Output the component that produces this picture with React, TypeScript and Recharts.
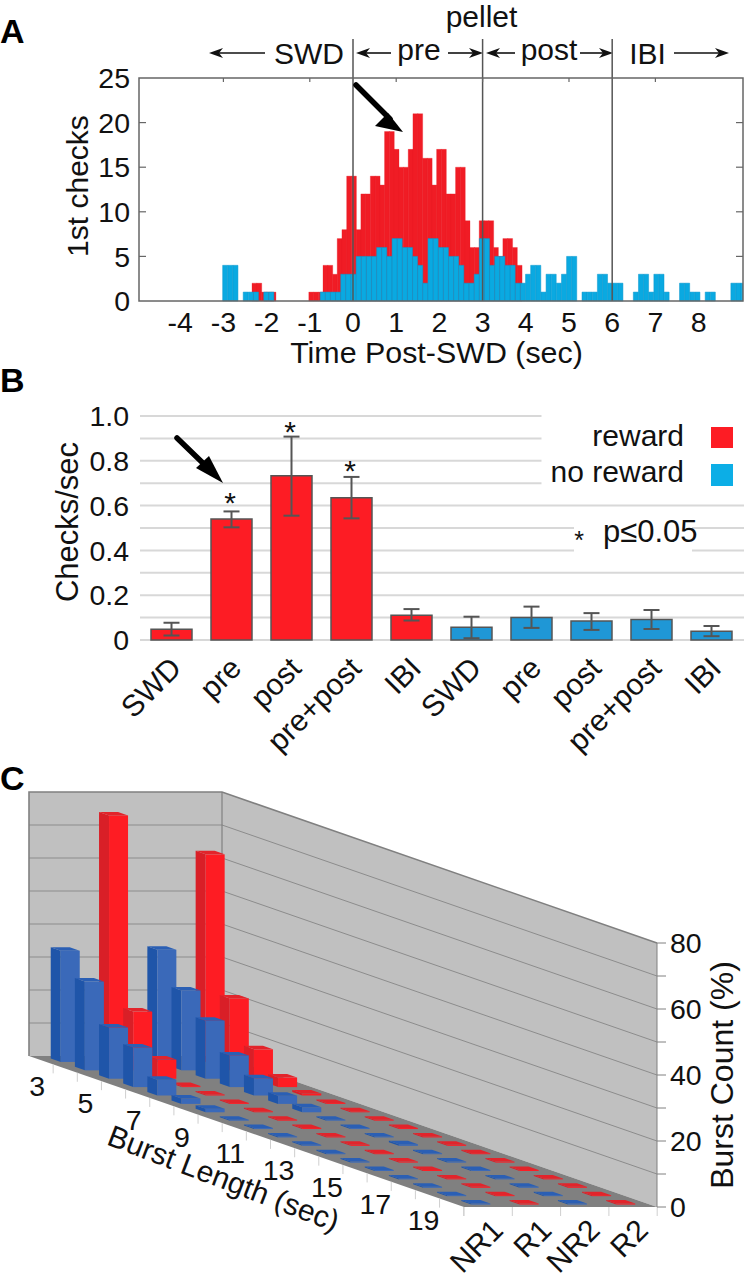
import {
  BarChart,
  Bar,
  Cell,
  CartesianGrid,
  ErrorBar,
  ReferenceLine,
  Scatter,
  ScatterChart,
  XAxis,
  YAxis,
} from 'recharts'

const FONT = '"Liberation Sans", Arial, sans-serif'
const INK = '#111'

// panel A, histogram bins (red and blue use different bin widths)
const redStart = -2.338
const redWidth = 0.10957
const redCounts = [
  2, 2, 1, 1, 1, 0, 0, 0, 0, 0, 0, 0, 1, 1, 1, 4, 4, 3, 7, 8, 14, 14, 8, 12, 12, 14, 14, 13, 19, 19, 17, 15, 15, 17, 21,
  21, 16, 16, 13, 17, 17, 12, 12, 15, 15, 9, 6, 6, 9, 9, 9, 6, 5, 7, 7, 6, 4,
]
const blueStart = -3.017
const blueWidth = 0.11883
const blueCounts = [
  4, 4, 4, 0, 1, 1, 1, 0, 1, 1, 0, 0, 0, 0, 0, 0, 0, 0, 0, 1, 1, 1, 1, 3, 3, 3, 5, 5, 5, 5, 6, 6, 5, 7, 7, 6, 6, 5, 4, 2,
  7, 7, 6, 6, 5, 5, 4, 2, 2, 3, 7, 7, 4, 5, 5, 4, 4, 2, 2, 3, 4, 4, 1, 3, 3, 2, 3, 5, 5, 0, 1, 1, 1, 3, 3, 2, 2, 2, 0, 0,
  1, 3, 3, 1, 3, 3, 1, 0, 0, 2, 2, 1, 1, 0, 1, 1, 0, 0, 0, 2, 2, 2,
]
const timeTicks = [-4, -3, -2, -1, 0, 1, 2, 3, 4, 5, 6, 7, 8]
const checkTicks = [0, 5, 10, 15, 20, 25]
const epochLines = [0, 3, 6]
const topTicks = [-3, -1, 1, 3, 5, 7]

// panel B
const rateLabels = ['SWD', 'pre', 'post', 'pre+post', 'IBI', 'SWD', 'pre', 'post', 'pre+post', 'IBI']
const rateValues = [0.048, 0.54, 0.733, 0.635, 0.11, 0.057, 0.101, 0.085, 0.092, 0.039]
const rateLow = [0.02, 0.503, 0.555, 0.543, 0.087, 0.008, 0.054, 0.045, 0.049, 0.017]
const rateHigh = [0.077, 0.574, 0.908, 0.728, 0.138, 0.104, 0.149, 0.12, 0.134, 0.0625]
const rateColors = ['#fd1c24', '#fd1c24', '#fd1c24', '#fd1c24', '#fd1c24', '#1f97d6', '#1f97d6', '#1f97d6', '#1f97d6', '#1f97d6']
const rateTicks = [0, 0.1, 0.2, 0.3, 0.4, 0.5, 0.6, 0.7, 0.8, 0.9, 1]

// panel C
const burstLengths = [3, 4, 5, 6, 7, 8, 9, 10, 11, 12, 13, 14, 15, 16, 17, 18, 19, 20]
const seriesNames = ['NR1', 'R1', 'NR2', 'R2']
const nr1 = [33.7, 26.9, 15.5, 12, 4.8, 1.6, 1.1, 0.3, 0.3, 0.3, 0.3, 0.3, 0.3, 0.3, 0.3, 0.3, 0.3, 0.3]
const r1 = [74.7, 17.8, 5.8, 0.3, 0.3, 0.3, 0.3, 0.3, 0.3, 0.3, 0.3, 0.3, 0.3, 0.3, 0.3, 0.3, 0.3, 0.3]
const nr2 = [34, 24.2, 17.6, 9.6, 5.2, 2.5, 1.5, 0.3, 0.3, 0.3, 0.5, 0.3, 0.3, 0.3, 0.3, 0.3, 0.3, 0.3]
const r2 = [62.9, 21.8, 8.9, 2.9, 0.6, 0.3, 0.3, 0.3, 0.3, 0.3, 0.3, 0.3, 0.3, 0.3, 0.3, 0.3, 0.3, 0.3]
const burstCountTicks = [0, 10, 20, 30, 40, 50, 60, 70, 80]

const seriesValues = [nr1, r1, nr2, r2]
const redRows = redCounts.map((v, i) => ({ t: redStart + (i + 0.5) * redWidth, v }))
const blueRows = blueCounts.map((v, i) => ({ t: blueStart + (i + 0.5) * blueWidth, v }))
const rateRows = rateLabels.map((name, i) => ({
  key: i,
  name,
  v: rateValues[i],
  err: [rateValues[i] - rateLow[i], rateHigh[i] - rateValues[i]],
}))

// back to front, so nearer prisms paint over farther ones
const prismRows = burstLengths.flatMap((_, b) =>
  [3, 2, 1, 0].map((s) => ({ b, s, pos: s + 0.5 + (b + 0.5) * 0.5, value: seriesValues[s][b] })),
)

const fs = 30
const tickFs = 28.5
const A = { left: 139, right: 743, top: 78, bottom: 301 }
const pxPerSec = (A.right - A.left) / 13.982
const timeX = (t: number) => 353 + t * pxPerSec
const checkY = (v: number) => A.bottom - (v / 25) * (A.bottom - A.top)

const C = { top: 780, plotBottom: 427, floorDy: 151 / 18 }

const RED = { front: '#fe1c23', side: '#d91f27', top: '#e2242b' }
const BLUE = { front: '#3a69b9', side: '#1f55a9', top: '#2b5fb4' }

function Prism(props: any) {
  const { cx, cy, payload } = props
  const c = payload.s % 2 === 0 ? BLUE : RED
  const shift = (18 - (payload.b + 0.5)) * C.floorDy
  const base = C.plotBottom - shift
  const top = cy - shift
  const hw = 9.5
  const dx = 5
  const dy = 1.75
  const pts = (p: number[][]) => p.map((q) => q.join(',')).join(' ')
  return (
    <g>
      <polygon
        points={pts([
          [cx - hw - dx, top - dy],
          [cx - hw + dx, top + dy],
          [cx - hw + dx, base + dy],
          [cx - hw - dx, base - dy],
        ])}
        fill={c.side}
      />
      <rect x={cx - hw + dx} y={top + dy} width={hw * 2} height={Math.max(base - top, 0)} fill={c.front} />
      <polygon
        points={pts([
          [cx - hw - dx, top - dy],
          [cx + hw - dx, top - dy],
          [cx + hw + dx, top + dy],
          [cx - hw + dx, top + dy],
        ])}
        fill={c.top}
      />
    </g>
  )
}

function BurstTick(props: any) {
  const { x, y, payload } = props
  const value = payload.value
  if (value < 9) {
    const b = value * 2 - 0.5
    const dy = (18 - (b + 0.5)) * C.floorDy
    return (
      <text x={x - 4} y={C.plotBottom - dy + 36} textAnchor="middle" fontSize={tickFs} fontFamily={FONT} fill={INK}>
        {burstLengths[b]}
      </text>
    )
  }
  const name = seriesNames[value - 9.5]
  return (
    <text
      x={x + 17}
      y={y + 17}
      textAnchor="end"
      fontSize={30}
      fontFamily={FONT}
      fill={INK}
      transform={`rotate(-45 ${x + 17} ${y + 17})`}
    >
      {name}
    </text>
  )
}

function RateTick(props: any) {
  const { x, y, payload } = props
  const ax = x + 12
  const ay = y + 22
  return (
    <text x={ax} y={ay} textAnchor="end" fontSize={fs} fontFamily={FONT} fill={INK} transform={`rotate(-45 ${ax} ${ay})`}>
      {payload.value}
    </text>
  )
}

function Arrow({ x1, x2, y }: { x1: number; x2: number; y: number }) {
  const dir = x2 > x1 ? 1 : -1
  return (
    <g>
      <line x1={x1} y1={y} x2={x2 - dir * 6} y2={y} stroke={INK} strokeWidth={1.6} />
      <polygon
        points={`${x2},${y} ${x2 - dir * 14},${y - 5} ${x2 - dir * 10},${y} ${x2 - dir * 14},${y + 5}`}
        fill={INK}
      />
    </g>
  )
}

function BigArrow({ pts, x1, y1, x2, y2 }: { pts: string; x1: number; y1: number; x2: number; y2: number }) {
  return (
    <g>
      <line x1={x1} y1={y1} x2={x2} y2={y2} stroke="#000" strokeWidth={5.5} strokeLinecap="round" />
      <polygon points={pts} fill="#000" />
    </g>
  )
}

function Label({ x, y, children, size = fs, anchor = 'middle', weight, rotate }: any) {
  return (
    <text
      x={x}
      y={y}
      fontSize={size}
      fontFamily={FONT}
      fontWeight={weight}
      fill={weight ? '#000' : INK}
      textAnchor={anchor}
      transform={rotate ? `rotate(${rotate} ${x} ${y})` : undefined}
    >
      {children}
    </text>
  )
}

const layer = { position: 'absolute', left: 0, top: 0 } as const

function Walls() {
  const unit = 33
  const levels = [1, 2, 3, 4, 5, 6, 7]
  return (
    <svg width={744} height={1280} style={layer}>
      <rect x={29} y={792} width={193} height={264} fill="#c0c0c0" />
      <polygon points="222,792 657,943 657,1207 222,1056" fill="#c0c0c0" />
      <polygon points="29,1056 222,1056 657,1207 464,1207" fill="#808080" />
      {levels.map((k) => (
        <g key={k} stroke="#8c8c8c" strokeWidth={1}>
          <line x1={29} y1={1056 - k * unit} x2={222} y2={1056 - k * unit} />
          <line x1={222} y1={1056 - k * unit} x2={657} y2={1207 - k * unit} />
        </g>
      ))}
      <polyline points="29,1056 29,792 222,792 657,943" fill="none" stroke="#808080" strokeWidth={1.6} />
      <line x1={222} y1={792} x2={222} y2={1056} stroke="#808080" strokeWidth={1.2} />
      {burstLengths.map((_, i) => (
        <line
          key={i}
          x1={29 + (i + 1) * 24.15}
          y1={1056 + (i + 1) * C.floorDy}
          x2={29 + (i + 1) * 24.15}
          y2={1056 + (i + 1) * C.floorDy + 9}
          stroke="#cfcfcf"
        />
      ))}
      {[0, 1, 2, 3, 4].map((s) => (
        <line key={s} x1={464 + s * 48.3} y1={1207} x2={464 + s * 48.3} y2={1216} stroke="#cfcfcf" />
      ))}
    </svg>
  )
}

function Annotations() {
  return (
    <svg width={744} height={1280} style={{ ...layer, pointerEvents: 'none' }}>
      {/* panel letters */}
      <Label x={0} y={43} size={34} weight="bold" anchor="start">A</Label>
      <Label x={0} y={392} size={34} weight="bold" anchor="start">B</Label>
      <Label x={0} y={790} size={34} weight="bold" anchor="start">C</Label>

      {/* panel A header */}
      <Label x={481.5} y={27}>pellet</Label>
      <Label x={309} y={64}>SWD</Label>
      <Label x={419} y={60}>pre</Label>
      <Label x={549} y={60}>post</Label>
      <Label x={647.5} y={64}>IBI</Label>
      <Arrow x1={265} x2={209} y={53} />
      <Arrow x1={391} x2={356} y={53} />
      <Arrow x1={448} x2={483} y={53} />
      <Arrow x1={515} x2={486} y={53} />
      <Arrow x1={580} x2={613} y={53} />
      <Arrow x1={674} x2={729} y={53} />
      {epochLines.map((t) => (
        <line key={t} x1={timeX(t)} y1={39} x2={timeX(t)} y2={A.top} stroke="#555" strokeWidth={1.5} />
      ))}

      {/* panel A frame and inward ticks */}
      <rect x={A.left} y={A.top} width={A.right - A.left} height={A.bottom - A.top} fill="none" stroke="#666" strokeWidth={1.5} />
      {checkTicks.slice(1, -1).map((v) => (
        <g key={v} stroke="#666" strokeWidth={1.2}>
          <line x1={A.left} y1={checkY(v)} x2={A.left + 7} y2={checkY(v)} />
          <line x1={A.right} y1={checkY(v)} x2={A.right - 7} y2={checkY(v)} />
        </g>
      ))}
      {topTicks.map((t) => (
        <line key={t} x1={timeX(t)} y1={A.top} x2={timeX(t)} y2={A.top + 4} stroke="#666" strokeWidth={1.2} />
      ))}
      <Label x={436.5} y={363} size={30.4}>Time Post-SWD (sec)</Label>
      <Label x={88} y={186} rotate={-90}>1st checks</Label>
      <BigArrow x1={356} y1={85} x2={390} y2={119} pts="403,132 388,113 375,126" />

      {/* panel B */}
      <Label x={78} y={522} size={31} rotate={-90}>Checks/sec</Label>
      <BigArrow x1={177} y1={438} x2={207} y2={467} pts="223,483 209,456 196,468" />
      <Label x={230} y={513}>*</Label>
      <Label x={290} y={442}>*</Label>
      <Label x={350} y={481}>*</Label>
      <rect x={541.5} y={408} width={203} height={90} fill="#fff" />
      <rect x={574} y={518} width={118} height={38} fill="#fff" />
      <Label x={684} y={446} anchor="end">reward</Label>
      <Label x={684} y={482} anchor="end">no reward</Label>
      <rect x={711} y={427} width={22} height={21} fill="#fd1c24" />
      <rect x={711} y={464} width={22} height={22} fill="#0caee6" />
      <Label x={579} y={549} size={25}>*</Label>
      <Label x={603} y={542} size={31} anchor="start">p≤0.05</Label>

      {/* panel C */}
      <Label x={220} y={1188} rotate={21}>Burst Length (sec)</Label>
      <Label x={733} y={1075} size={32} rotate={-90}>Burst Count (%)</Label>
    </svg>
  )
}

export default function App() {
  return (
    <div style={{ position: 'absolute', left: 0, top: 0, width: 744, height: 1280, background: '#fff', overflow: 'hidden' }}>
      {/* panel A: red behind, blue in front */}
      <div style={layer}>
        <BarChart
          width={744}
          height={380}
          data={redRows}
          barCategoryGap={0}
          barGap={0}
          margin={{ top: A.top, right: 744 - A.right, left: A.left - 60, bottom: 380 - A.bottom - 40 }}
        >
          <XAxis
            type="number"
            dataKey="t"
            domain={[-4.954, 9.028]}
            ticks={timeTicks}
            interval={0}
            allowDataOverflow
            height={40}
            tickLine={false}
            axisLine={false}
            tick={{ fontSize: tickFs, fontFamily: FONT, fill: INK }}
            tickMargin={5}
          />
          <YAxis
            width={60}
            domain={[0, 25]}
            ticks={checkTicks}
            interval={0}
            tickLine={false}
            axisLine={false}
            tick={{ fontSize: tickFs, fontFamily: FONT, fill: INK }}
            tickMargin={3}
          />
          <Bar dataKey="v" fill="#f01c25" stroke="#e81b24" strokeWidth={0.3} isAnimationActive={false} />
        </BarChart>
      </div>
      <div style={layer}>
        <BarChart
          width={744}
          height={380}
          data={blueRows}
          barCategoryGap={0}
          barGap={0}
          margin={{ top: A.top, right: 744 - A.right, left: A.left, bottom: 380 - A.bottom }}
        >
          <XAxis type="number" dataKey="t" domain={[-4.954, 9.028]} allowDataOverflow hide />
          <YAxis domain={[0, 25]} hide />
          <Bar dataKey="v" fill="#0aa9e1" stroke="#0b97cc" strokeWidth={0.5} isAnimationActive={false} />
          {epochLines.map((t) => (
            <ReferenceLine key={t} x={t} stroke="#555" strokeWidth={1.5} />
          ))}
        </BarChart>
      </div>

      {/* panel B */}
      <div style={{ ...layer, top: 400 }}>
        <BarChart
          width={744}
          height={360}
          data={rateRows}
          margin={{ top: 16, right: 0, left: 80, bottom: 20 }}
        >
          <CartesianGrid vertical={false} stroke="#d8d8d8" strokeWidth={2} />
          <XAxis
            dataKey="key"
            height={100}
            interval={0}
            padding={{ left: 1, right: 3 }}
            tickLine={false}
            axisLine={false}
            tick={(p: any) => <RateTick {...p} payload={{ value: rateLabels[p.payload.value] }} />}
          />
          <YAxis
            width={60}
            domain={[0, 1]}
            ticks={rateTicks}
            interval={0}
            tickLine={false}
            axisLine={false}
            tickMargin={5}
            tick={{ fontSize: tickFs, fontFamily: FONT, fill: INK }}
            tickFormatter={(v: number) => {
              const tenths = Math.round(v * 10)
              if (tenths % 2 !== 0) return ''
              return tenths === 0 ? '0' : v.toFixed(1)
            }}
          />
          <Bar dataKey="v" barSize={41} stroke="#555" strokeWidth={1.5} isAnimationActive={false}>
            {rateRows.map((row, i) => (
              <Cell key={row.key} fill={rateColors[i]} />
            ))}
            <ErrorBar dataKey="err" width={8} stroke="#555" strokeWidth={2} isAnimationActive={false} />
          </Bar>
        </BarChart>
      </div>

      {/* panel C: floor and walls sit under the chart */}
      <Walls />
      <div style={{ ...layer, top: C.top }}>
        <ScatterChart width={744} height={500} margin={{ top: 163, right: 87 - 60, left: 29, bottom: 73 - 30 }}>
          <XAxis
            type="number"
            dataKey="pos"
            domain={[0, 13]}
            ticks={[0.25, 1.25, 2.25, 3.25, 4.25, 5.25, 6.25, 7.25, 8.25, 9.5, 10.5, 11.5, 12.5]}
            interval={0}
            height={30}
            axisLine={false}
            tickLine={false}
            tick={BurstTick}
          />
          <YAxis
            type="number"
            dataKey="value"
            orientation="right"
            width={60}
            domain={[0, 80]}
            ticks={burstCountTicks}
            interval={0}
            stroke="#808080"
            tickSize={9}
            tick={{ fontSize: tickFs, fontFamily: FONT, fill: INK }}
            tickMargin={4}
            tickFormatter={(v: number) => (v % 20 === 0 ? String(v) : '')}
          />
          <Scatter data={prismRows} shape={Prism} isAnimationActive={false} />
        </ScatterChart>
      </div>

      <Annotations />
    </div>
  )
}
